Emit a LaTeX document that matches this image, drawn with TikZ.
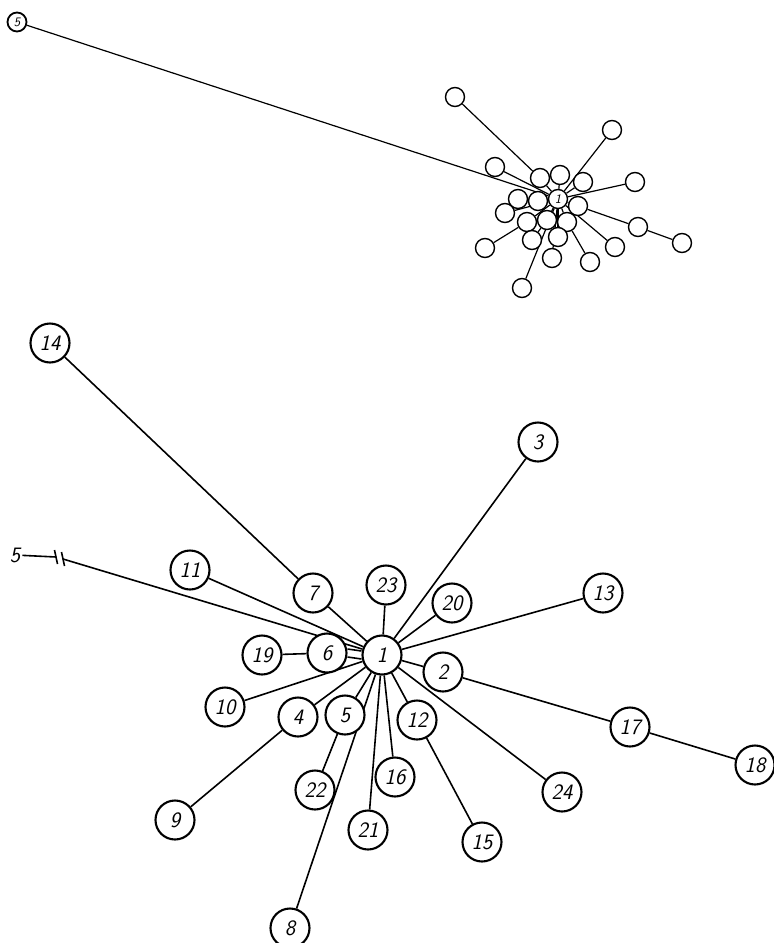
\documentclass[tikz,border=0pt]{standalone}
\usepackage{fontspec}
\usetikzlibrary{backgrounds}
\begin{document}
\begin{tikzpicture}[x=1pt,y=-1pt,
  bignode/.style={circle,draw,line width=2.1pt,fill=white,minimum size=39pt,inner sep=0pt,
    font=\fontsize{22}{22}\selectfont\sffamily\slshape},
  smallnode/.style={circle,draw,line width=1.4pt,fill=white,minimum size=19pt,inner sep=0pt,
    font=\fontsize{13}{13}\selectfont\sffamily\slshape},
  plainlabel/.style={inner sep=2pt,font=\fontsize{22}{22}\selectfont\sffamily\slshape},
  edge/.style={line width=1.6pt},
  sedge/.style={line width=1.2pt}]
\useasboundingbox (0,0) rectangle (774,943);

% ---------------- main graph ----------------
\node[bignode] (n1)  at (382,655) {1};
\node[bignode] (n3)  at (538,442) {3};
\node[bignode] (n23) at (386,585) {23};
\node[bignode] (n20) at (452,603) {20};
\node[bignode] (n13) at (603,593) {13};
\node[bignode] (n2)  at (443,672) {2};
\node[bignode] (n17) at (630,727) {17};
\node[bignode] (n18) at (755,765) {18};
\node[bignode] (n12) at (417,720) {12};
\node[bignode] (n16) at (395,777) {16};
\node[bignode] (n24) at (562,792) {24};
\node[bignode] (n5)  at (345,715) {5};
\node[bignode] (n6)  at (327,653) {6};
\node[bignode] (n7)  at (313,593) {7};
\node[bignode] (n11) at (190,570) {11};
\node[bignode] (n19) at (262,655) {19};
\node[bignode] (n10) at (225,707) {10};
\node[bignode] (n4)  at (298,717) {4};
\node[bignode] (n22) at (315,790) {22};
\node[bignode] (n9)  at (175,820) {9};
\node[bignode] (n21) at (368,830) {21};
\node[bignode] (n15) at (482,842) {15};
\node[bignode] (n8)  at (290,928) {8};
\node[bignode] (n14) at (50,343)  {14};
\node[plainlabel] (lbl5) at (15,555) {5};
\coordinate (capL) at (56,557);
\coordinate (capR) at (63,559);

% ---------------- miniature ----------------
\node[smallnode] (m1)  at (558,199) {1};
\node[smallnode] (m14) at (455,97)  {};
\node[smallnode] (m3)  at (612,130) {};
\node[smallnode] (m11) at (495,167) {};
\node[smallnode] (m13) at (635,182) {};
\node[smallnode] (m7)  at (540,178) {};
\node[smallnode] (m23) at (560,175) {};
\node[smallnode] (m20) at (583,182) {};
\node[smallnode] (m6)  at (538,201) {};
\node[smallnode] (m19) at (518,199) {};
\node[smallnode] (m2)  at (578,206) {};
\node[smallnode] (m10) at (505,213) {};
\node[smallnode] (m4)  at (527,222) {};
\node[smallnode] (m5)  at (547,220) {};
\node[smallnode] (m12) at (567,222) {};
\node[smallnode] (m17) at (638,227) {};
\node[smallnode] (m18) at (682,243) {};
\node[smallnode] (m22) at (532,240) {};
\node[smallnode] (m16) at (558,237) {};
\node[smallnode] (m24) at (615,247) {};
\node[smallnode] (m9)  at (485,248) {};
\node[smallnode] (m21) at (552,258) {};
\node[smallnode] (m15) at (590,262) {};
\node[smallnode] (m8)  at (522,288) {};
\node[smallnode,line width=1.8pt] (m5in) at (17,22) {5};

\begin{scope}[on background layer]
  % main edges
  \foreach \t in {n3,n23,n20,n13,n2,n12,n24,n16,n21,n8,n5,n4,n10,n11,n7}
    \draw[edge] (n1) -- (\t);
  \draw[edge] (n2) -- (n17);
  \draw[edge] (n17) -- (n18);
  \draw[edge] (n12) -- (n15);
  \draw[edge] (n5) -- (n22);
  \draw[edge] (n4) -- (n9);
  \draw[edge] (n6) -- (n19);
  \draw[edge] (n7) -- (n14);
  \draw[edge] ([yshift=4pt]n6.east) -- ([yshift=4pt]n1.west);
  \draw[edge] ([yshift=-4pt]n6.east) -- ([yshift=-4pt]n1.west);
  \draw[edge] (lbl5) -- (capL);
  \draw[edge] (capR) -- (n1);
  \draw[edge] ([shift={(-1.5,-7)}]capL) -- ([shift={(1.5,7)}]capL);
  \draw[edge] ([shift={(-1.5,-7)}]capR) -- ([shift={(1.5,7)}]capR);
  % miniature edges
  \foreach \t in {m3,m23,m20,m13,m2,m12,m24,m16,m21,m8,m5,m4,m10,m11,m7,m6}
    \draw[sedge] (m1) -- (\t);
  \draw[sedge] (m2) -- (m17);
  \draw[sedge] (m17) -- (m18);
  \draw[sedge] (m12) -- (m15);
  \draw[sedge] (m5) -- (m22);
  \draw[sedge] (m4) -- (m9);
  \draw[sedge] (m6) -- (m19);
  \draw[sedge] (m7) -- (m14);
  \draw[sedge] (m5in) -- (m1);
\end{scope}
\end{tikzpicture}
\end{document}
